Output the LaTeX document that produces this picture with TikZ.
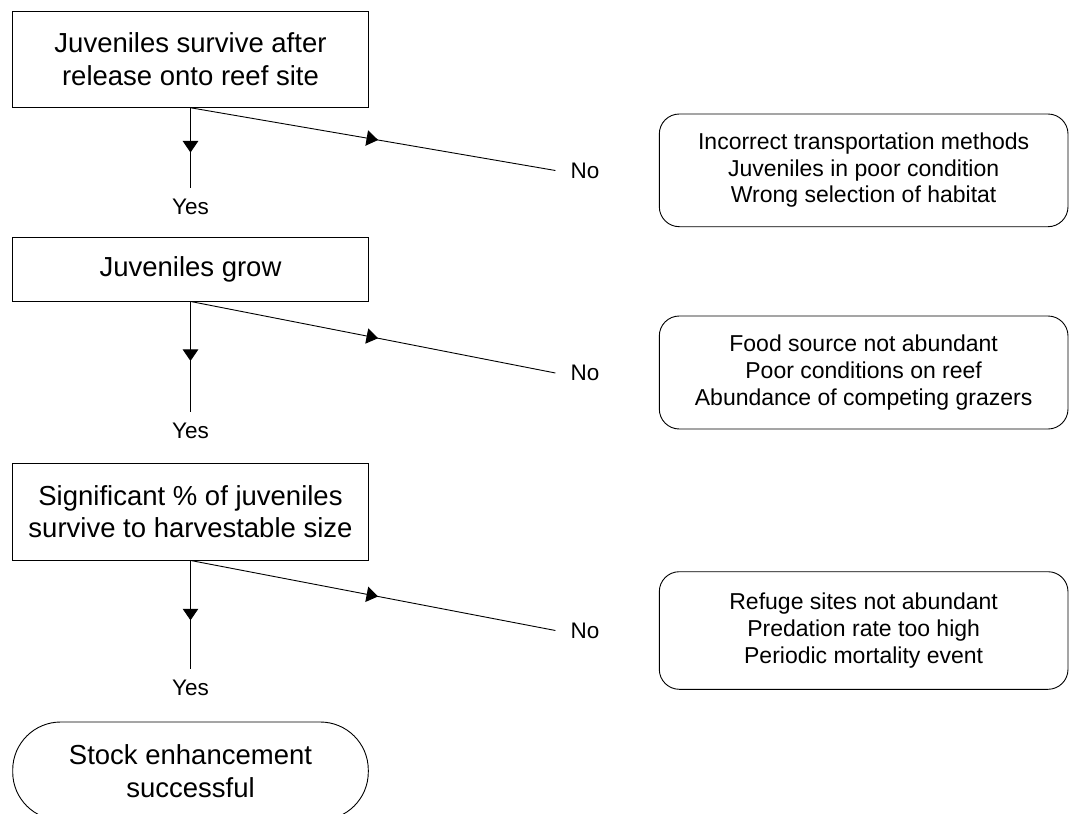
\documentclass[tikz,border=0pt]{standalone}
\usepackage{fontspec}
\setmainfont{Liberation Sans}
\usetikzlibrary{arrows.meta,decorations.markings}
\begin{document}
\begin{tikzpicture}[x=1pt,y=-1pt,
  every node/.style={inner sep=0pt},
  procbox/.style={draw, line width=0.9pt, rectangle, minimum width=355.6pt, align=center, font=\fontsize{27.5}{32.5}\selectfont},
  causebox/.style={draw, line width=0.9pt, rectangle, rounded corners=20pt, minimum width=408.7pt, align=center, font=\fontsize{23}{26.7}\selectfont},
  endbox/.style={draw, line width=0.9pt, rectangle, rounded corners=48pt, minimum width=355.6pt, minimum height=98pt, align=center, font=\fontsize{27.5}{32.5}\selectfont},
  answer/.style={font=\fontsize{22.5}{26}\selectfont, inner xsep=15pt, inner ysep=11pt},
  flowline/.style={line width=0.9pt, decoration={markings, mark=at position #1 with {\arrow{Triangle[length=11.5pt,width=15.5pt]}}}, postaction={decorate}},
]
\useasboundingbox (0,0) rectangle (1069,814);
\clip (0,0) rectangle (1069,814);

% main process boxes
\node[procbox, minimum height=96.3pt] (b1) at (190.5,59.15) {Juveniles survive after\\release onto reef site};
\node[procbox, minimum height=63.7pt] (b2) at (190.5,269.15) {Juveniles grow};
\node[procbox, minimum height=96.7pt] (b3) at (190.5,511.65) {Significant \% of juveniles\\survive to harvestable size};
\node[endbox] (end) at (190.5,771) {Stock enhancement\\successful};

% answers
\node[answer] (y1) at (190.5,206.7) {Yes};
\node[answer] (n1) at (585,170.5) {No};
\node[answer] (y2) at (190.5,430.7) {Yes};
\node[answer] (n2) at (585,373) {No};
\node[answer] (y3) at (190.5,688.3) {Yes};
\node[answer] (n3) at (585,630.5) {No};

% cause boxes
\node[causebox, minimum height=112.7pt] (c1) at (863.65,170.35) {Incorrect transportation methods\\Juveniles in poor condition\\Wrong selection of habitat};
\node[causebox, minimum height=113pt] (c2) at (863.65,372.5) {Food source not abundant\\Poor conditions on reef\\Abundance of competing grazers};
\node[causebox, minimum height=117.6pt] (c3) at (863.65,630.5) {Refuge sites not abundant\\Predation rate too high\\Periodic mortality event};

% connectors
\draw[flowline=0.56] (b1.south) -- (y1.north);
\draw[flowline=0.514] (b1.south) -- (n1.west);
\draw[flowline=0.54] (b2.south) -- (y2.north);
\draw[flowline=0.514] (b2.south) -- (n2.west);
\draw[flowline=0.55] (b3.south) -- (y3.north);
\draw[flowline=0.514] (b3.south) -- (n3.west);
\end{tikzpicture}
\end{document}
